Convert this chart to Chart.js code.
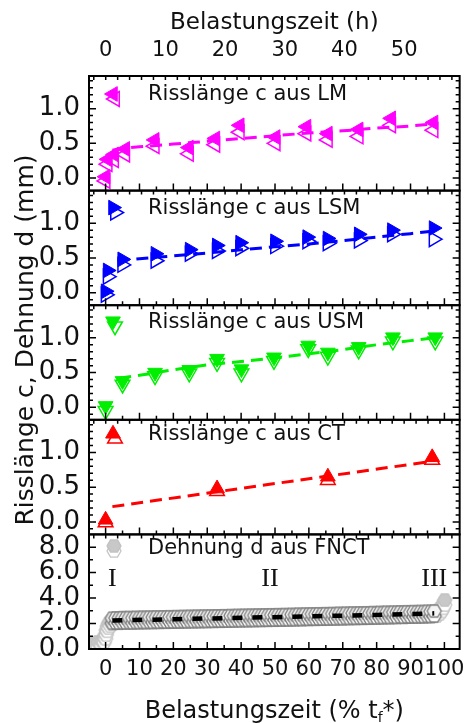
<!DOCTYPE html>
<html>
<head>
<meta charset="utf-8">
<script src="https://cdn.jsdelivr.net/npm/chart.js@4.4.1/dist/chart.umd.min.js"></script>
<style>
  body { margin: 0; background: #fff; }
  #box { width: 473px; height: 723px; }
</style>
</head>
<body>
<div id="box"><canvas id="myChart" width="473" height="723"></canvas></div>
<script>
const FONT = 'DejaVu Sans'

// axis ticks
const pctTicks = [0, 10, 20, 30, 40, 50, 60, 70, 80, 90, 100]
const pctMinor = [5, 15, 25, 35, 45, 55, 65, 75, 85, 95]
const hourTicks = [0, 10, 20, 30, 40, 50]
const hourMinor = [-2, 0, 2, 4, 6, 8, 10, 12, 14, 16, 18, 20, 22, 24, 26, 28, 30, 32, 34, 36, 38, 40, 42, 44, 46, 48, 50, 52, 54, 56, 58]
const cTicks = [0, 0.5, 1.0]
const cMinor = [-0.1, 0.1, 0.2, 0.3, 0.4, 0.6, 0.7, 0.8, 0.9, 1.1, 1.2, 1.3, 1.4]
const dTicks = [0, 2, 4, 6, 8]
const dMinor = [1, 3, 5, 7]

// Risslänge c aus LM
const lmX = [0, 0.6, 2.5, 5.8, 14.5, 24.6, 32.4, 39.6, 50.2, 59.3, 65.6, 74.7, 84.3, 96.8]
const lmFilled = [0.02, 0.27, 0.34, 0.42, 0.55, 0.44, 0.57, 0.76, 0.59, 0.74, 0.64, 0.70, 0.86, 0.80]
const lmOpen = [-0.04, 0.20, 0.26, 0.34, 0.46, 0.35, 0.48, 0.66, 0.50, 0.64, 0.55, 0.60, 0.76, 0.69]
const lmFitX = [2, 5, 10, 20, 30, 40, 50, 60, 70, 80, 90, 97]
const lmFitY = [0.40, 0.43, 0.45, 0.49, 0.53, 0.57, 0.61, 0.65, 0.68, 0.72, 0.75, 0.78]

// Risslänge c aus LSM
const lsmX = [0, 0.6, 4.9, 14.7, 24.8, 32.8, 39.7, 50, 59.5, 65.5, 74.7, 84.5, 96.8]
const lsmFilled = [0.02, 0.32, 0.48, 0.56, 0.62, 0.68, 0.72, 0.74, 0.80, 0.78, 0.84, 0.90, 0.93]
const lsmOpen = [-0.03, 0.23, 0.40, 0.46, 0.56, 0.60, 0.64, 0.67, 0.74, 0.71, 0.75, 0.84, 0.77]
const lsmFitX = [3.5, 10, 20, 30, 40, 50, 60, 70, 80, 90, 97]
const lsmFitY = [0.46, 0.49, 0.53, 0.57, 0.62, 0.66, 0.70, 0.75, 0.80, 0.85, 0.89]

// Risslänge c aus USM
const usmX = [0, 5, 14.6, 24.7, 32.9, 40.1, 49.7, 59.8, 65.6, 74.7, 84.8, 97.3]
const usmFilled = [0.02, 0.38, 0.50, 0.54, 0.70, 0.55, 0.72, 0.89, 0.79, 0.87, 1.01, 1.01]
const usmOpen = [-0.05, 0.33, 0.45, 0.49, 0.64, 0.49, 0.67, 0.84, 0.73, 0.82, 0.95, 0.95]
const usmFitX = [4, 10, 20, 30, 40, 50, 60, 70, 80, 90, 97]
const usmFitY = [0.42, 0.46, 0.54, 0.61, 0.66, 0.71, 0.77, 0.83, 0.90, 0.96, 1.00]

// Risslänge c aus CT
const ctX = [0, 32.9, 65.6, 96.4]
const ctFilled = [0.03, 0.48, 0.65, 0.93]
const ctOpen = [-0.01, 0.44, 0.60, 0.89]
const ctFitX = [2, 96]
const ctFitY = [0.22, 0.87]

// Dehnung d aus FNCT
const fnct1X = [-4.2, -3.2, -2.2, -1.2, -0.4, 0, 0.2, 0.5, 0.9, 1.4, 2.0]
const fnct1Y = [0.25, 0.30, 0.35, 0.45, 0.70, 1.00, 1.30, 1.60, 1.85, 2.00, 2.15]
const fnct2X = [2, 3, 4, 5, 6, 7, 8, 9, 10, 11, 12, 13, 14, 15, 16, 17, 18, 19, 20, 21,
  22, 23, 24, 25, 26, 27, 28, 29, 30, 31, 32, 33, 34, 35, 36, 37, 38, 39, 40, 41,
  42, 43, 44, 45, 46, 47, 48, 49, 50, 51, 52, 53, 54, 55, 56, 57, 58, 59, 60, 61,
  62, 63, 64, 65, 66, 67, 68, 69, 70, 71, 72, 73, 74, 75, 76, 77, 78, 79, 80, 81,
  82, 83, 84, 85, 86, 87, 88, 89, 90, 91, 92, 93, 94, 95, 96, 97]
const fnct2Y = [2.22, 2.24, 2.23, 2.26, 2.25, 2.27, 2.25, 2.28, 2.27, 2.29,
  2.28, 2.30, 2.29, 2.31, 2.30, 2.32, 2.31, 2.33, 2.32, 2.34,
  2.33, 2.35, 2.34, 2.36, 2.35, 2.37, 2.36, 2.38, 2.37, 2.39,
  2.38, 2.40, 2.39, 2.41, 2.40, 2.42, 2.41, 2.43, 2.42, 2.44,
  2.43, 2.45, 2.44, 2.46, 2.45, 2.47, 2.46, 2.48, 2.47, 2.49,
  2.48, 2.50, 2.49, 2.51, 2.50, 2.53, 2.51, 2.54, 2.53, 2.55,
  2.54, 2.56, 2.55, 2.57, 2.56, 2.58, 2.57, 2.60, 2.58, 2.61,
  2.60, 2.62, 2.61, 2.63, 2.62, 2.64, 2.63, 2.66, 2.64, 2.67,
  2.66, 2.68, 2.67, 2.69, 2.68, 2.71, 2.69, 2.72, 2.71, 2.73,
  2.72, 2.74, 2.73, 2.76, 2.75, 2.78]
const fnct3X = [97.8, 98.6, 99.2, 99.7, 100.1]
const fnct3Y = [2.80, 2.95, 3.15, 3.40, 3.65]
const fnctFitX = [2, 20, 40, 60, 80, 97]
const fnctFitY = [2.24, 2.34, 2.45, 2.56, 2.68, 2.80]

// phases
const phaseLabels = ['I', 'II', 'III']
const phaseX = [2, 48.5, 97]
const phaseY = 5.5

const pts = (xs, ys) => xs.map((x, i) => ({x, y: ys[i]}))

// hexagon marker: hexagon with an open "shadow" hexagon below it
const hexImage = (r, fill, stroke, shadow, lw) => {
  const c = document.createElement('canvas')
  c.width = Math.ceil(2 * r + lw + 2)
  c.height = Math.ceil(Math.sqrt(3) * r + lw + 2 + 5)
  const g = c.getContext('2d')
  const hex = cy => {
    g.beginPath()
    for (let i = 0; i < 6; i++) {
      const a = Math.PI / 3 * i
      g.lineTo(c.width / 2 + r * Math.cos(a), cy + r * Math.sin(a))
    }
    g.closePath()
  }
  g.lineWidth = lw
  hex(c.height / 2 + 2.5)
  g.fillStyle = '#ffffff'; g.fill()
  g.strokeStyle = shadow; g.stroke()
  hex(c.height / 2 - 2.5)
  g.fillStyle = fill; g.fill()
  g.strokeStyle = stroke; g.stroke()
  return c
}
const hexLight = hexImage(7, '#c8c8c8', '#c0c0c0', '#c4c4c4', 1.3)
const hexBand = hexImage(7, '#f4f4f4', '#828282', '#7a7a7a', 1.4)

const markers = (xs, ys, axis, color, rot, filled) => ({
  data: pts(xs, ys), yAxisID: axis, showLine: false,
  pointStyle: 'triangle', pointRotation: rot, pointRadius: 8.5,
  pointBackgroundColor: filled ? color : 'rgba(0,0,0,0)',
  pointBorderColor: color, pointBorderWidth: filled ? 1 : 1.5,
  order: filled ? 1 : 3
})
const fitLine = (xs, ys, axis, color, width, dash) => ({
  data: pts(xs, ys), yAxisID: axis, showLine: true, pointRadius: 0,
  borderColor: color, borderWidth: width, borderDash: dash, order: 2
})
const hexes = (xs, ys, img, order) => ({
  data: pts(xs, ys), yAxisID: 'y5', showLine: false, pointStyle: img, pointRadius: 7, clip: 0, order
})

const panels = [
  {id: 'y1', min: -0.18, max: 1.47, major: cTicks, minor: cMinor, text: 'Risslänge c aus LM', color: '#ff00ff', rot: -90, dy: 19},
  {id: 'y2', min: -0.18, max: 1.47, major: cTicks, minor: cMinor, text: 'Risslänge c aus LSM', color: '#0000ff', rot: 90, dy: 18},
  {id: 'y3', min: -0.18, max: 1.47, major: cTicks, minor: cMinor, text: 'Risslänge c aus USM', color: '#00ee00', rot: 180, dy: 17},
  {id: 'y4', min: -0.18, max: 1.47, major: cTicks, minor: cMinor, text: 'Risslänge c aus CT', color: '#ff0000', rot: 0, dy: 15},
  {id: 'y5', min: 0, max: 9, major: dTicks, minor: dMinor, text: 'Dehnung d aus FNCT', color: null, rot: 0, dy: 14}
]

const drawTri = (ctx, x, y, r, rotDeg, fill, stroke, lw) => {
  let rad = rotDeg * Math.PI / 180
  ctx.beginPath()
  for (let i = 0; i < 3; i++) {
    ctx.lineTo(x + Math.sin(rad) * r, y - Math.cos(rad) * r)
    rad += 2 * Math.PI / 3
  }
  ctx.closePath()
  if (fill) { ctx.fillStyle = fill; ctx.fill() }
  ctx.strokeStyle = stroke; ctx.lineWidth = lw; ctx.stroke()
}

// frames, inward ticks, legends, titles
const decorations = {
  id: 'decorations',
  afterDatasetsDraw(chart) {
    const {ctx, chartArea: {left, right}} = chart
    const xs = chart.scales.x, xt = chart.scales.xTop
    ctx.save()
    panels.forEach(p => {
      const s = chart.scales[p.id]
      const top = s.top, bot = s.bottom
      ctx.strokeStyle = '#000'
      ctx.lineWidth = 1.5
      ctx.beginPath()
      const yt = (v, len) => {
        const py = s.getPixelForValue(v)
        ctx.moveTo(left, py); ctx.lineTo(left + len, py)
        ctx.moveTo(right, py); ctx.lineTo(right - len, py)
      }
      p.major.forEach(v => yt(v, 7))
      p.minor.forEach(v => yt(v, 4))
      pctTicks.forEach(v => { const px = xs.getPixelForValue(v); ctx.moveTo(px, bot); ctx.lineTo(px, bot - 7) })
      pctMinor.forEach(v => { const px = xs.getPixelForValue(v); ctx.moveTo(px, bot); ctx.lineTo(px, bot - 4) })
      hourMinor.forEach(v => {
        const px = xt.getPixelForValue(v)
        if (px > left + 1 && px < right - 1) { ctx.moveTo(px, top); ctx.lineTo(px, top + 4) }
      })
      ctx.stroke()
      ctx.lineWidth = 2
      ctx.strokeRect(left, top, right - left, bot - top)

      // legend
      const ly = top + p.dy
      if (p.color) {
        drawTri(ctx, 115, ly + 4, 8.5, p.rot, null, p.color, 1.5)
        drawTri(ctx, 113, ly - 1, 8.5, p.rot, p.color, p.color, 1)
      } else {
        ctx.drawImage(hexLight, 114 - hexLight.width / 2, ly - hexLight.height / 2)
      }
      ctx.fillStyle = '#111'
      ctx.font = '21px "' + FONT + '"'
      ctx.textAlign = 'left'
      ctx.textBaseline = 'middle'
      ctx.fillText(p.text, 148, ly)
    })

    // phases I, II, III
    const s5 = chart.scales.y5
    ctx.fillStyle = '#111'
    ctx.font = '26px "Liberation Serif"'
    ctx.textAlign = 'center'
    phaseLabels.forEach((t, i) => ctx.fillText(t, xs.getPixelForValue(phaseX[i]), s5.getPixelForValue(phaseY)))

    // axis titles
    const cx = (left + right) / 2
    ctx.font = '23px "' + FONT + '"'
    ctx.fillText('Belastungszeit (h)', cx, 23)

    const a = 'Belastungszeit (% t', b = 'f', c = '*)'
    ctx.font = '24px "' + FONT + '"'
    const wa = ctx.measureText(a).width, wc = ctx.measureText(c).width
    ctx.font = '14px "' + FONT + '"'
    const wb = ctx.measureText(b).width
    let x0 = cx - (wa + wb + wc) / 2
    ctx.textAlign = 'left'
    ctx.textBaseline = 'alphabetic'
    ctx.font = '24px "' + FONT + '"'
    ctx.fillText(a, x0, 718)
    ctx.font = '14px "' + FONT + '"'
    ctx.fillText(b, x0 + wa, 722)
    ctx.font = '24px "' + FONT + '"'
    ctx.fillText(c, x0 + wa + wb, 718)

    ctx.translate(26, 340)
    ctx.rotate(-Math.PI / 2)
    ctx.textAlign = 'center'
    ctx.textBaseline = 'middle'
    ctx.font = '25px "' + FONT + '"'
    ctx.fillText('Risslänge c, Dehnung d (mm)', 0, 0)
    ctx.restore()
  }
}

const yScale = (p, weight) => ({
  type: 'linear', position: 'left', stack: 'panels', stackWeight: 1, weight,
  min: p.min, max: p.max,
  grid: {display: false, drawTicks: false}, border: {display: false},
  ticks: {font: {family: FONT, size: 26}, color: '#111', padding: 9, autoSkip: false, callback: v => v.toFixed(1)},
  afterBuildTicks: s => { s.ticks = p.major.map(v => ({value: v})) },
  afterFit: s => { s.width = 89 }
})

const ctx = document.getElementById('myChart').getContext('2d')

let myChart = new Chart(ctx, {
  type: 'scatter',
  data: {
    datasets: [
      markers(lmX, lmFilled, 'y1', '#ff00ff', -90, true),
      markers(lmX, lmOpen, 'y1', '#ff00ff', -90, false),
      fitLine(lmFitX, lmFitY, 'y1', '#ff00ff', 3, [12, 7]),
      markers(lsmX, lsmFilled, 'y2', '#0000ff', 90, true),
      markers(lsmX, lsmOpen, 'y2', '#0000ff', 90, false),
      fitLine(lsmFitX, lsmFitY, 'y2', '#0000ff', 3, [12, 7]),
      markers(usmX, usmFilled, 'y3', '#00ee00', 180, true),
      markers(usmX, usmOpen, 'y3', '#00ee00', 180, false),
      fitLine(usmFitX, usmFitY, 'y3', '#00ee00', 3, [12, 7]),
      markers(ctX, ctFilled, 'y4', '#ff0000', 0, true),
      markers(ctX, ctOpen, 'y4', '#ff0000', 0, false),
      fitLine(ctFitX, ctFitY, 'y4', '#ff0000', 3, [12, 7]),
      hexes(fnct1X, fnct1Y, hexLight, 4),
      hexes(fnct2X, fnct2Y, hexBand, 3),
      hexes(fnct3X, fnct3Y, hexLight, 4),
      fitLine(fnctFitX, fnctFitY, 'y5', '#000000', 4.5, [10, 10])
    ]
  },
  options: {
    responsive: false,
    animation: false,
    devicePixelRatio: 1,
    events: [],
    layout: {padding: {left: 0, right: 5, top: 0, bottom: 0}},
    plugins: {legend: {display: false}, tooltip: {enabled: false}},
    scales: {
      x: {
        type: 'linear', position: 'bottom', min: -4.9, max: 104.5,
        grid: {display: false, drawTicks: false}, border: {display: false},
        ticks: {font: {family: FONT, size: 21}, color: '#111', padding: 8, maxRotation: 0, autoSkip: false},
        afterBuildTicks: s => { s.ticks = pctTicks.map(v => ({value: v})) },
        afterFit: s => { s.height = 74 }
      },
      xTop: {
        type: 'linear', position: 'top', min: -2.8, max: 59.3,
        grid: {display: false, drawTicks: false}, border: {display: false},
        ticks: {font: {family: FONT, size: 21}, color: '#111', padding: 13, maxRotation: 0, autoSkip: false},
        afterBuildTicks: s => { s.ticks = hourTicks.map(v => ({value: v})) },
        afterFit: s => { s.height = 76 }
      },
      y1: yScale(panels[0], 5),
      y2: yScale(panels[1], 4),
      y3: yScale(panels[2], 3),
      y4: yScale(panels[3], 2),
      y5: yScale(panels[4], 1)
    }
  },
  plugins: [decorations]
})
</script>
</body>
</html>
